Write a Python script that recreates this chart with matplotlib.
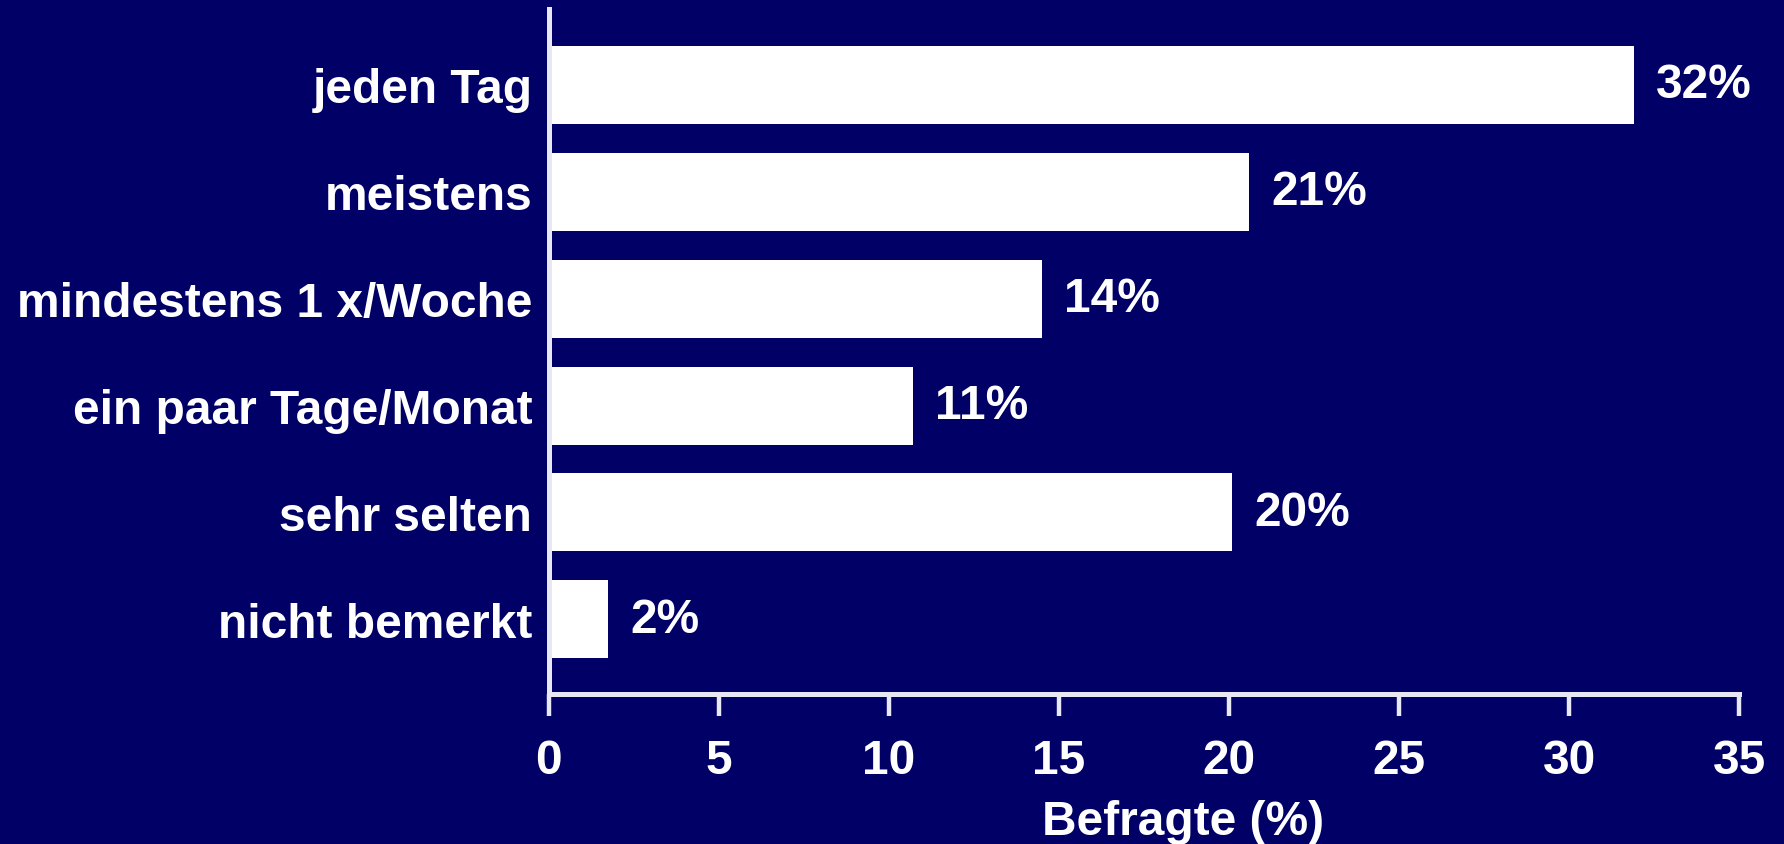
import matplotlib
matplotlib.use("Agg")
from matplotlib import pyplot as plt

# survey answers, top to bottom
categories = ["jeden Tag", "meistens", "mindestens 1 x/Woche",
              "ein paar Tage/Monat", "sehr selten", "nicht bemerkt"]
values = [31.9, 20.6, 14.5, 10.7, 20.1, 1.75]
value_labels = ["32%", "21%", "14%", "11%", "20%", "2%"]
xticks = [0, 5, 10, 15, 20, 25, 30, 35]

navy = "#000066"
fs = 34.5
plt.rcParams['font.family'] = ['Liberation Sans', 'DejaVu Sans']
plt.rcParams['font.weight'] = 'bold'

fig = plt.figure(figsize=(17.84, 8.45), dpi=100, facecolor=navy)
ax = fig.add_axes([0.3077, 0.1775, 0.6671, 0.8105])
ax.set_facecolor(navy)

pos = list(range(len(categories)))
ax.barh(pos, values, height=0.73, color="white", edgecolor="none")

for p, v, lab in zip(pos, values, value_labels):
    ax.annotate(lab, (v, p), xytext=(16, 0), textcoords="offset points",
                ha="left", va="center", color="white", fontsize=fs, fontweight="bold")

ax.set_ylim(len(categories) - 0.3, -0.71)
ax.set_xlim(0, 35)
ax.set_yticks(pos)
ax.set_yticklabels(categories)
ax.set_xticks(xticks)

for s in ["top", "right"]:
    ax.spines[s].set_visible(False)
for s in ["left", "bottom"]:
    ax.spines[s].set_color("#e8e8f4")
    ax.spines[s].set_linewidth(3.6)

ax.tick_params(axis="y", length=0, pad=12, labelsize=fs, labelcolor="white")
ax.tick_params(axis="x", length=16, width=3.2, color="#e8e8f4", pad=16,
               labelsize=fs, labelcolor="white")
for t in ax.get_xticklabels() + ax.get_yticklabels():
    t.set_fontweight("bold")

ax.set_xlabel("Befragte (%)", color="white", fontsize=fs, fontweight="bold")
ax.xaxis.set_label_coords(0.533, -0.153)

plt.savefig("out.png", dpi=100, facecolor=navy)
